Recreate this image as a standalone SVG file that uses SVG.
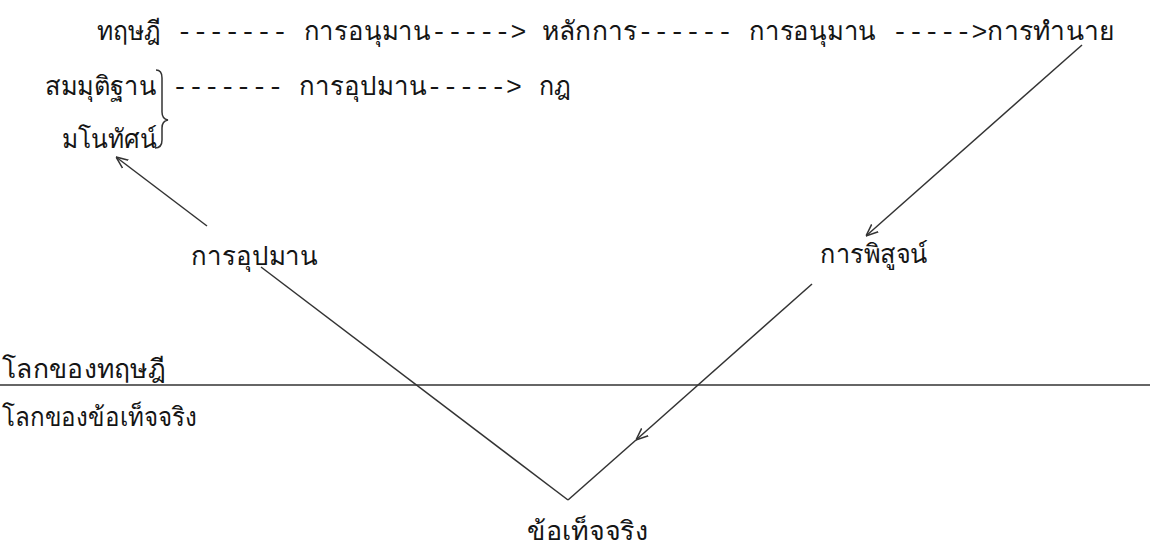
<svg xmlns="http://www.w3.org/2000/svg" width="1150" height="556" viewBox="0 0 1150 556">
<defs>
<style>
text{font-family:"Noto Sans","DejaVu Sans",sans-serif;font-size:26px;fill:#151515;}
.d{font-family:"Liberation Mono",monospace;font-size:26.5px;}
.ln{stroke:#333;stroke-width:1.5;fill:none;}
</style>
<marker id="ah" viewBox="0 0 12 12" refX="12" refY="6" markerWidth="12" markerHeight="12" markerUnits="userSpaceOnUse" orient="auto">
<path d="M0,1 L12,6 L0,11" fill="none" stroke="#333" stroke-width="1.5"/>
</marker>
</defs>
<rect width="1150" height="556" fill="#fff"/>
<g id="row1">
<text x="97" y="40" textLength="63.6" lengthAdjust="spacingAndGlyphs">ทฤษฎี</text>
<text class="d" x="176.5" y="40">-------</text>
<text x="303.7" y="40" textLength="127.2" lengthAdjust="spacingAndGlyphs">การอนุมาน</text>
<text class="d" x="431" y="40">-----&gt;</text>
<text x="542" y="40" textLength="95.4" lengthAdjust="spacingAndGlyphs">หลักการ</text>
<text class="d" x="637.4" y="40">------</text>
<text x="749" y="40" textLength="127.2" lengthAdjust="spacingAndGlyphs">การอนุมาน</text>
<text class="d" x="892" y="40">-----&gt;</text>
<text x="987.4" y="40" textLength="127.2" lengthAdjust="spacingAndGlyphs">การทำนาย</text>
</g>
<g id="row2">
<text x="45" y="95" textLength="111.3" lengthAdjust="spacingAndGlyphs">สมมุติฐาน</text>
<path class="ln" d="M156,70 Q162,70 162,78 L162,112 Q162,119 168,120 Q162,121 162,128 L162,140 Q162,148 155,148"/>
<text class="d" x="172" y="95">-------</text>
<text x="299.4" y="95" textLength="127.2" lengthAdjust="spacingAndGlyphs">การอุปมาน</text>
<text class="d" x="426.6" y="95">-----&gt;</text>
<text x="538.5" y="95" textLength="31.8" lengthAdjust="spacingAndGlyphs">กฎ</text>
</g>
<g id="row3">
<text x="62" y="148" textLength="95.4" lengthAdjust="spacingAndGlyphs">มโนทัศน์</text>
</g>
<g id="labels">
<text x="191" y="265" textLength="127.2" lengthAdjust="spacingAndGlyphs">การอุปมาน</text>
<text x="820" y="263" textLength="108" lengthAdjust="spacingAndGlyphs">การพิสูจน์</text>
<text x="2" y="378" textLength="163" lengthAdjust="spacingAndGlyphs">โลกของทฤษฎี</text>
<text x="2" y="426" textLength="195" lengthAdjust="spacingAndGlyphs">โลกของข้อเท็จจริง</text>
<text x="527" y="540" textLength="121" lengthAdjust="spacingAndGlyphs">ข้อเท็จจริง</text>
</g>
<g id="connectors">
<line class="ln" x1="0" y1="385" x2="1150" y2="385"/>
<line class="ln" x1="207" y1="226" x2="116" y2="157" marker-end="url(#ah)"/>
<line class="ln" x1="261" y1="267" x2="568" y2="500"/>
<line class="ln" x1="1082" y1="45" x2="866" y2="236" marker-end="url(#ah)"/>
<line class="ln" x1="812" y1="284" x2="636" y2="440" marker-end="url(#ah)"/>
<line class="ln" x1="636" y1="440" x2="568" y2="500"/>
</g>
</svg>
